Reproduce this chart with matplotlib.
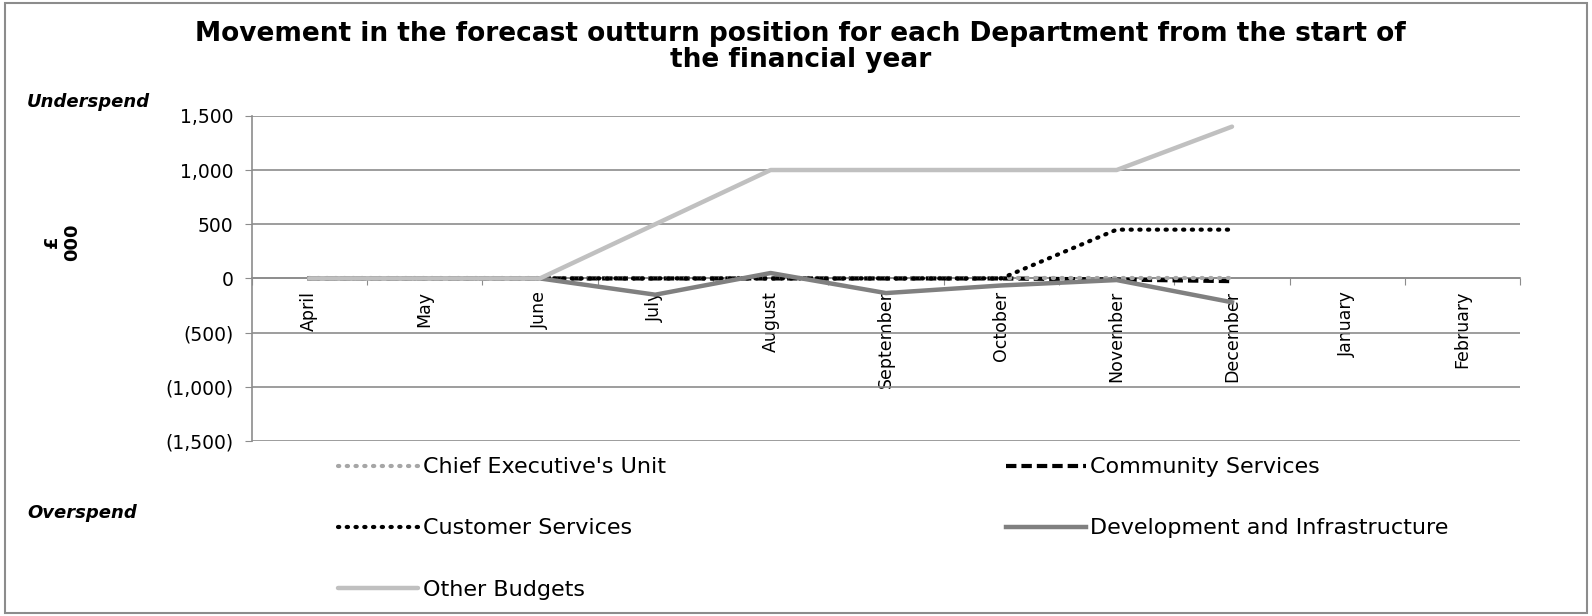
import matplotlib.pyplot as plt
from matplotlib.patches import Rectangle

months = ["April", "May", "June", "July", "August", "September", "October",
          "November", "December", "January", "February"]

chief_exec = [0, 0, 0, 0, 0, 0, 0, 0, 0]
community = [0, 0, 0, 0, 0, 0, 0, -10, -25]
customer = [0, 0, 0, 0, 0, 0, 0, 450, 450]
development = [0, 0, 0, -150, 50, -135, -65, -15, -220]
other = [0, 0, 0, 500, 1000, 1000, 1000, 1000, 1400]

yticks = [-1500, -1000, -500, 0, 500, 1000, 1500]


def fmt(v):
    if v < 0:
        return "({:,})".format(-v)
    return "{:,}".format(v)


fig = plt.figure(figsize=(15.92, 6.16), dpi=100)
ax = fig.add_axes([0.158, 0.284, 0.797, 0.528])

x = list(range(len(chief_exec)))
# stacking as in the original: dashes at the bottom, other budgets on top
ax.plot(x, chief_exec, color="#a6a6a6", lw=3, linestyle=(0, (0.3, 1.8)), dash_capstyle="round",
        label="Chief Executive's Unit", zorder=4)
ax.plot(x, community, color="black", lw=3, linestyle=(0, (2.5, 1.2)), label="Community Services", zorder=3)
ax.plot(x, customer, color="black", lw=3, linestyle=(0, (0.3, 1.8)), dash_capstyle="round",
        label="Customer Services", zorder=5)
ax.plot(x, development, color="#808080", lw=3.2, label="Development and Infrastructure", zorder=6)
ax.plot(x, other, color="#c0c0c0", lw=3.2, solid_capstyle="round", label="Other Budgets", zorder=7)

ax.set_xlim(-0.5, len(months) - 0.5)
ax.set_ylim(-1500, 1500)
ax.set_yticks(yticks)
ax.set_yticklabels([fmt(v) for v in yticks], fontsize=13.5, family="DejaVu Sans")
ax.yaxis.grid(True, color="#8c8c8c", lw=1.2)
ax.set_axisbelow(True)

for s in ["top", "right"]:
    ax.spines[s].set_visible(False)
ax.spines["left"].set_color("#8c8c8c")
ax.spines["left"].set_linewidth(1.2)
ax.spines["bottom"].set_position(("data", 0))
ax.spines["bottom"].set_color("#8c8c8c")
ax.spines["bottom"].set_linewidth(1.2)

ax.set_xticks([i - 0.5 for i in range(len(months) + 1)])
ax.set_xticklabels([])
ax.tick_params(axis="x", which="major", length=5, color="#8c8c8c", direction="out")
ax.set_xticks(range(len(months)), minor=True)
ax.set_xticklabels(months, minor=True, rotation=90, fontsize=12.5,
                   family=["Liberation Sans Narrow", "DejaVu Sans"], va="top")
ax.tick_params(axis="x", which="minor", length=0, pad=9)
ax.tick_params(axis="y", length=5, color="#8c8c8c", pad=8)

fig.text(0.503, 0.924, "Movement in the forecast outturn position for each Department from the start of\nthe financial year",
         ha="center", va="center", fontsize=19, fontweight="bold", family="DejaVu Sans", linespacing=1.0)
fig.text(0.017, 0.835, "Underspend", fontsize=13, fontweight="bold", style="italic", va="center")
fig.text(0.017, 0.168, "Overspend", fontsize=13, fontweight="bold", style="italic", va="center")
fig.text(0.039, 0.607, "£\n000", rotation=90, fontsize=13, fontweight="bold", ha="center", va="center",
         linespacing=1.2)

handles, labels = ax.get_legend_handles_labels()
hmap = dict(zip(labels, handles))
# legend fills column-wise, so list the left column first
col1 = ["Chief Executive's Unit", "Customer Services", "Other Budgets"]
col2 = ["Community Services", "Development and Infrastructure"]
leg = fig.legend([hmap[l] for l in col1 + col2], col1 + col2, ncol=2,
                 loc="upper left", bbox_to_anchor=(0.2, 0.29), frameon=False,
                 fontsize=16, handlelength=3.6, handletextpad=0.2,
                 labelspacing=1.85, columnspacing=15.3)

fig.patches.append(Rectangle((0.003, 0.005), 0.994, 0.99, transform=fig.transFigure,
                             fill=False, edgecolor="#8c8c8c", lw=1.5))

fig.savefig("out.png", dpi=100)
